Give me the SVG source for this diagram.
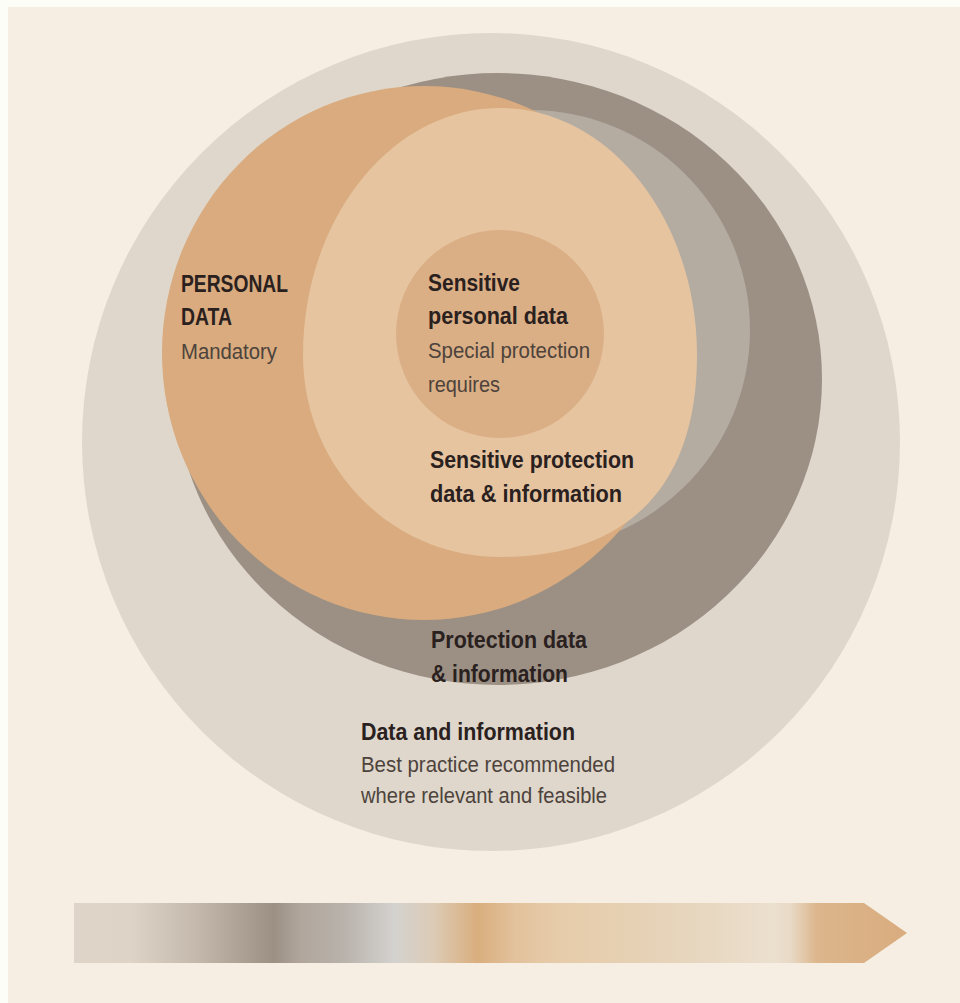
<svg xmlns="http://www.w3.org/2000/svg" width="960" height="1003" viewBox="0 0 960 1003">
  <style>
    .h { font-family: "Liberation Sans", Arial, sans-serif; font-weight: bold; font-size: 23px; fill: #2a211f; }
    .s { font-family: "Liberation Sans", Arial, sans-serif; font-size: 22px; fill: #4d433c; }
  </style>
  <defs>
    <linearGradient id="scale" x1="74" y1="0" x2="907" y2="0" gradientUnits="userSpaceOnUse">
      <stop offset="0" stop-color="#ded5c8"/>
      <stop offset="0.068" stop-color="#ddd4c7"/>
      <stop offset="0.148" stop-color="#c3b8ab"/>
      <stop offset="0.24" stop-color="#9c9084"/>
      <stop offset="0.272" stop-color="#b0a69c"/>
      <stop offset="0.325" stop-color="#b9b3ac"/>
      <stop offset="0.385" stop-color="#d4d2cf"/>
      <stop offset="0.431" stop-color="#dccbb6"/>
      <stop offset="0.484" stop-color="#d9ae7e"/>
      <stop offset="0.529" stop-color="#e2c19c"/>
      <stop offset="0.576" stop-color="#e6cba8"/>
      <stop offset="0.707" stop-color="#e6d3b9"/>
      <stop offset="0.839" stop-color="#ebdfce"/>
      <stop offset="0.86" stop-color="#e8dac6"/>
      <stop offset="0.892" stop-color="#dcb68c"/>
      <stop offset="1" stop-color="#d9ac7e"/>
    </linearGradient>
  </defs>

  <!-- page -->
  <rect x="0" y="0" width="960" height="1003" fill="#fdfdf8"/>
  <rect x="8" y="7" width="952" height="996" fill="#f6eee3"/>

  <!-- nested data rings, back to front -->
  <g id="data-and-information">
    <circle cx="491" cy="442" r="409" fill="#dfd7cb"/>
  </g>
  <g id="protection-data">
    <ellipse cx="498" cy="379" rx="324" ry="306" fill="#9c9084"/>
  </g>
  <g id="sensitive-protection-ring">
    <circle cx="530" cy="330" r="220" fill="#b4aba1"/>
  </g>
  <g id="personal-data">
    <ellipse cx="424" cy="353" rx="262" ry="267" fill="#d9ab7e"/>
  </g>
  <g id="sensitive-protection-data">
    <path d="M500,108 C609,108 697,219 697,355 C697,486 628,557 500,557 C391,557 303,467 303,355 C303,219 391,108 500,108 Z" fill="#e5c49f"/>
  </g>
  <g id="sensitive-personal-data">
    <circle cx="500" cy="334" r="104" fill="#dbaf85"/>
  </g>

  <!-- labels -->
  <g id="labels">
    <text class="h" x="181" y="292" textLength="107" lengthAdjust="spacingAndGlyphs">PERSONAL</text>
    <text class="h" x="181" y="325" textLength="51" lengthAdjust="spacingAndGlyphs">DATA</text>
    <text class="s" x="181" y="359" textLength="96" lengthAdjust="spacingAndGlyphs">Mandatory</text>

    <text class="h" x="428" y="291" textLength="92" lengthAdjust="spacingAndGlyphs">Sensitive</text>
    <text class="h" x="428" y="324" textLength="140" lengthAdjust="spacingAndGlyphs">personal data</text>
    <text class="s" x="428" y="358" textLength="162" lengthAdjust="spacingAndGlyphs">Special protection</text>
    <text class="s" x="428" y="392" textLength="72" lengthAdjust="spacingAndGlyphs">requires</text>

    <text class="h" x="430" y="468" textLength="204" lengthAdjust="spacingAndGlyphs">Sensitive protection</text>
    <text class="h" x="430" y="502" textLength="192" lengthAdjust="spacingAndGlyphs">data &amp; information</text>

    <text class="h" x="431" y="648" textLength="156" lengthAdjust="spacingAndGlyphs">Protection data</text>
    <text class="h" x="431" y="682" textLength="137" lengthAdjust="spacingAndGlyphs">&amp; information</text>

    <text class="h" x="361" y="740" textLength="214" lengthAdjust="spacingAndGlyphs">Data and information</text>
    <text class="s" x="361" y="772" textLength="254" lengthAdjust="spacingAndGlyphs">Best practice recommended</text>
    <text class="s" x="361" y="803" textLength="246" lengthAdjust="spacingAndGlyphs">where relevant and feasible</text>
  </g>

  <!-- graded scale arrow -->
  <g id="scale-arrow">
    <polygon points="74,903 864,903 907,933 864,963 74,963" fill="url(#scale)"/>
  </g>
</svg>
